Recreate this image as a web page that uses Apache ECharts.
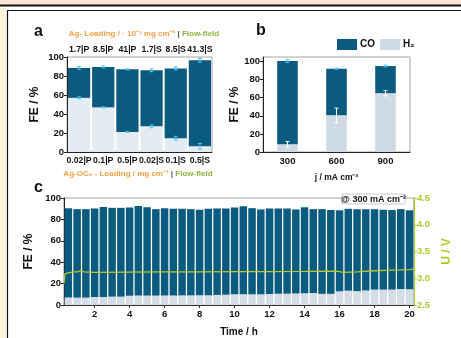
<!DOCTYPE html>
<html><head><meta charset="utf-8">
<script src="https://cdn.jsdelivr.net/npm/echarts@6/dist/echarts.min.js"></script>
<style>html,body{margin:0;padding:0;background:#fff}#c{width:461px;height:338px}</style>
</head><body><div id="c"></div>
<script>
// ---- panel a ----
const catA = ['0.02|P','0.1|P','0.5|P','0.02|S','0.1|S','0.5|S'];
const topA = ['1.7|P','8.5|P','41|P','1.7|S','8.5|S','41.3|S'];
const coA = [31.5, 42.5, 66, 59, 73.5, 90.5];
const h2A = [57, 47, 21, 27, 14.5, 6];
const errTopA = [1.5, 1, 0.5, 1.5, 1.5, 2];
const errH2A = [1, 0.5, 0.5, 1.5, 2, 3];
// ---- panel b ----
const catB = ['300','600','900'];
const coB = [92, 51.5, 30];
const h2B = [8.5, 40.5, 65];
const errTopB = [1.5, 0.5, 1];
const errH2B = [3, 8, 3];
// ---- panel c ----
const timeC = [0.5,1,1.5,2,2.5,3,3.5,4,4.5,5,5.5,6,6.5,7,7.5,8,8.5,9,9.5,10,
               10.5,11,11.5,12,12.5,13,13.5,14,14.5,15,15.5,16,16.5,17,17.5,18,18.5,19,19.5,20];
const coC = [83.6,82.7,82.7,82.7,84.1,83.0,83.0,82.5,83.7,82.6,80.8,81.7,81.1,80.9,80.6,79.8,80.7,80.8,80.6,81.1,
             82.2,80.5,79.3,80.0,79.6,79.6,78.5,80.4,78.4,79.2,78.4,75.7,76.5,76.5,75.9,75.1,74.6,74.4,74.7,73.8];
const h2C = [6.9,6.9,6.9,7.5,7.5,7.8,7.8,8.6,8.8,8.8,8.8,8.8,8.8,9.0,9.0,9.2,9.2,9.4,9.6,10.0,
             10.0,10.0,10.0,10.2,10.6,10.6,10.8,11.0,11.2,10.4,10.4,12.8,13.4,13.0,13.6,14.4,14.4,14.4,14.9,14.7];
const vTime = [0.25,0.3,0.5,0.8,1.0,1.2,1.4,2,4,6,8,10,12,14,15.85,15.9,15.95,16.2,17,18,19,20,20.2];
const vU = [2.90,3.08,3.10,3.12,3.12,3.14,3.12,3.11,3.115,3.12,3.12,3.125,3.125,3.13,3.135,3.17,3.10,3.11,3.12,3.14,3.15,3.16,3.17];
// ---- tick labels ----
const feTicks = [0,20,40,60,80,100];
const uTicks = [2.5,3.0,3.5,4.0,4.5];
const tTicks = [2,4,6,8,10,12,14,16,18,20];

const CO = '#0b5b80', H2a = '#e3ecf2', H2b = '#cfdbe4', H2c = '#d2dde6';
const GREEN = '#afcc2c', ORANGE = '#f5a043', FG = '#8db43a';
const FONT = "'Liberation Sans', Arial, sans-serif";
const lbl = {color:'#111', fontWeight:'bold', fontSize:9.5, fontFamily:FONT};
const lblS = {color:'#111', fontWeight:'bold', fontSize:8.7, fontFamily:FONT};

function errItem(color){
  return function(params, api){
    const x = api.value(0), y = api.value(1), e = api.value(2);
    const hi = api.coord([x, y + e]), lo = api.coord([x, y - e]);
    const w = 2;
    const st = {stroke: color, lineWidth: 1};
    return {type:'group', children:[
      {type:'line', shape:{x1:hi[0],y1:hi[1],x2:lo[0],y2:lo[1]}, style:st},
      {type:'line', shape:{x1:hi[0]-w,y1:hi[1],x2:hi[0]+w,y2:hi[1]}, style:st},
      {type:'line', shape:{x1:lo[0]-w,y1:lo[1],x2:lo[0]+w,y2:lo[1]}, style:st}
    ]};
  };
}

const feAxis = (gi, max, gap) => ({
  type:'value', gridIndex:gi, min:0, max:max, interval:20,
  name:'FE / %', nameLocation:'middle', nameRotate:90, nameGap:gap,
  nameTextStyle:{color:'#111', fontWeight:'bold', fontSize:12, fontFamily:FONT},
  axisLine:{show:true, lineStyle:{color:'#222', width:1}},
  axisTick:{show:true, length:3, lineStyle:{color:'#222'}, customValues:feTicks},
  axisLabel:Object.assign({margin:3, customValues:feTicks}, lbl),
  splitLine:{show:false}
});

const chart = echarts.init(document.getElementById('c'), null, {renderer:'canvas'});
chart.setOption({
  animation:false,
  textStyle:{fontFamily:FONT},
  grid:[
    {left:67, top:57, width:145, height:95, show:true, borderColor:'#a5a5a5', borderWidth:1},
    {left:263, top:57, width:147, height:95, show:true, borderColor:'#a5a5a5', borderWidth:1},
    {left:64, top:198, width:351, height:116, show:true, borderColor:'#a5a5a5', borderWidth:1.2}
  ],
  legend:{
    left:337, top:39, padding:0, itemWidth:20, itemHeight:11, itemGap:5, icon:'rect',
    textStyle:{color:'#111', fontWeight:'bold', fontSize:10, fontFamily:FONT, padding:[0,0,0,-2]},
    data:[{name:'CO', itemStyle:{color:CO}}, {name:'H₂', itemStyle:{color:H2b}}]
  },
  xAxis:[
    {type:'category', gridIndex:0, data:catA,
     axisLine:{lineStyle:{color:'#222'}}, axisTick:{show:false},
     axisLabel:Object.assign({margin:4, interval:0}, lblS)},
    {type:'category', gridIndex:0, data:topA, position:'top',
     axisLine:{show:false}, axisTick:{show:false},
     axisLabel:Object.assign({margin:3, interval:0}, lblS)},
    {type:'category', gridIndex:1, data:catB,
     axisLine:{lineStyle:{color:'#222'}}, axisTick:{show:false},
     axisLabel:Object.assign({margin:4}, lbl),
     name:'j / mA cm⁻²', nameLocation:'middle', nameGap:21,
     nameTextStyle:{color:'#111', fontWeight:'bold', fontSize:8.5, fontFamily:FONT}},
    {type:'value', gridIndex:2, min:0.25, max:20.25,
     axisLine:{lineStyle:{color:'#333'}},
     axisTick:{show:true, length:3, lineStyle:{color:'#333'}, customValues:tTicks},
     axisLabel:Object.assign({margin:4, customValues:tTicks}, lbl),
     splitLine:{show:false},
     name:'Time / h', nameLocation:'middle', nameGap:22,
     nameTextStyle:{color:'#111', fontWeight:'bold', fontSize:10, fontFamily:FONT}},
    {type:'category', gridIndex:2, data:timeC, show:false}
  ],
  yAxis:[
    feAxis(0, 100, 26),
    feAxis(1, 105, 22),
    feAxis(2, 100, 24),
    {type:'value', gridIndex:2, position:'right', min:2.5, max:4.5, interval:0.5,
     name:'U / V', nameLocation:'middle', nameRotate:90, nameGap:17,
     nameTextStyle:{color:GREEN, fontWeight:'bold', fontSize:12, fontFamily:FONT},
     axisLine:{show:true, lineStyle:{color:GREEN, width:1.2}},
     axisTick:{show:true, length:3, lineStyle:{color:GREEN}},
     axisLabel:{margin:3, color:GREEN, fontWeight:'bold', fontSize:9.5, fontFamily:FONT,
                formatter:v => v.toFixed(1)},
     splitLine:{show:false}}
  ],
  series:[
    // panel b (first, for legend)
    {name:'H₂', type:'bar', xAxisIndex:2, yAxisIndex:1, stack:'b', data:h2B,
     barWidth:'42%', itemStyle:{color:H2b}},
    {name:'CO', type:'bar', xAxisIndex:2, yAxisIndex:1, stack:'b', data:coB,
     barWidth:'42%', itemStyle:{color:CO}},
    {type:'custom', xAxisIndex:2, yAxisIndex:1, renderItem:errItem('#ffffff'), z:5,
     encode:{x:0, y:1}, data:catB.map((c,i)=>[i, h2B[i], errH2B[i]])},
    {type:'custom', xAxisIndex:2, yAxisIndex:1, renderItem:errItem('#4cc6f0'), z:5,
     encode:{x:0, y:1}, data:catB.map((c,i)=>[i, h2B[i]+coB[i], errTopB[i]])},
    // panel a
    {name:'H₂ a', type:'bar', xAxisIndex:0, yAxisIndex:0, stack:'a', data:h2A,
     barCategoryGap:'8%', itemStyle:{color:H2a}},
    {name:'CO a', type:'bar', xAxisIndex:0, yAxisIndex:0, stack:'a', data:coA,
     barCategoryGap:'8%', itemStyle:{color:CO}},
    {type:'custom', xAxisIndex:0, yAxisIndex:0, renderItem:errItem('#4cc6f0'), z:5,
     encode:{x:0, y:1}, data:catA.map((c,i)=>[i, h2A[i], errH2A[i]])},
    {type:'custom', xAxisIndex:0, yAxisIndex:0, renderItem:errItem('#4cc6f0'), z:5,
     encode:{x:0, y:1}, data:catA.map((c,i)=>[i, h2A[i]+coA[i], errTopA[i]])},
    // panel c (bars on hidden category axis aligned with time axis)
    {name:'H₂ c', type:'bar', xAxisIndex:4, yAxisIndex:2, stack:'c', barWidth:7.5,
     data:h2C, itemStyle:{color:H2c}},
    {name:'CO c', type:'bar', xAxisIndex:4, yAxisIndex:2, stack:'c', barWidth:7.5,
     data:coC, itemStyle:{color:CO}},
    {name:'U', type:'line', xAxisIndex:3, yAxisIndex:3, showSymbol:false, z:6,
     data:vTime.map((t,i)=>[t, vU[i]]), lineStyle:{color:GREEN, width:1.3}}
  ],
  graphic:[
    {type:'rect', shape:{x:0,y:0,width:461,height:4.5}, style:{fill:'#fbe2d4'}, silent:true},
    {type:'rect', shape:{x:0,y:4.5,width:461,height:2}, style:{fill:'#111'}, silent:true},
    {type:'rect', shape:{x:0,y:7,width:6,height:331}, style:{fill:'#fff3da'}, silent:true},
    {type:'line', shape:{x1:7.5,y1:10.5,x2:7.5,y2:338}, style:{stroke:'#111', lineWidth:1.2}, silent:true},
    {type:'line', shape:{x1:7,y1:10.5,x2:461,y2:10.5}, style:{stroke:'#111', lineWidth:1.2}, silent:true},
    {type:'text', left:34, top:24, style:{text:'a', fill:'#111', font:'bold 16px '+FONT}},
    {type:'text', left:256, top:23, style:{text:'b', fill:'#111', font:'bold 16px '+FONT}},
    {type:'text', left:34, top:180, style:{text:'c', fill:'#111', font:'bold 16px '+FONT}},
    {type:'text', x:144, y:34, style:{
      text:'{o|Ag- Loading / · 10⁻³ mg cm⁻² }{s||}{g| Flow-field}', align:'center', verticalAlign:'middle',
      rich:{o:{fill:ORANGE, font:'bold 8px '+FONT}, s:{fill:'#555', font:'bold 8px '+FONT}, g:{fill:FG, font:'bold 8px '+FONT}}}},
    {type:'text', x:138, y:174, style:{
      text:'{o|Ag-OC₆ - Loading / mg cm⁻² }{s||}{g| Flow-field}', align:'center', verticalAlign:'middle',
      rich:{o:{fill:ORANGE, font:'bold 8px '+FONT}, s:{fill:'#555', font:'bold 8px '+FONT}, g:{fill:FG, font:'bold 8px '+FONT}}}},
    {type:'rect', z:100, shape:{x:342,y:194,width:63,height:10}, style:{fill:'#fff', stroke:'#bbb', lineWidth:0.8}},
    {type:'text', z:101, x:373.5, y:199.3, style:{text:'@ 300 mA cm⁻²', align:'center', verticalAlign:'middle',
      fill:'#111', font:'bold 9px '+FONT}}
  ]
});
</script></body></html>
